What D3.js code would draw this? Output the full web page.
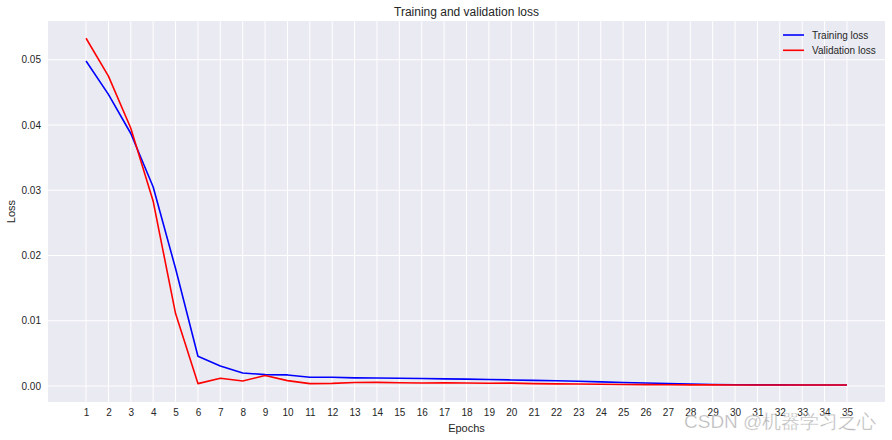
<!DOCTYPE html>
<html><head><meta charset="utf-8">
<script src="https://cdn.jsdelivr.net/npm/d3@7"></script>
<style>
body{margin:0;background:#fff;}
text{font-family:"Liberation Sans",Arial,sans-serif;}
</style></head>
<body><svg id="chart" width="892" height="440"></svg>
<script>
const epochs = d3.range(1, 36);
const trainingLoss = [0.0498,0.0447,0.0387,0.0305,0.0180,0.00456,0.00307,0.0020,0.00175,0.00170,
  0.00135,0.00135,0.00125,0.00122,0.00118,0.00114,0.00110,0.00106,0.00100,0.00093,
  0.00087,0.00080,0.00072,0.00064,0.00055,0.00046,0.00038,0.00030,0.00024,0.00020,
  0.00018,0.00017,0.00016,0.00016,0.00015];
const validationLoss = [0.0533,0.0475,0.0395,0.0283,0.0111,0.00037,0.00118,0.00077,0.0016,0.00083,
  0.00037,0.00040,0.00055,0.00056,0.00050,0.00046,0.00048,0.00047,0.00042,0.00045,
  0.00036,0.00033,0.00030,0.00027,0.00024,0.00022,0.00020,0.00018,0.00017,0.00016,
  0.00016,0.00015,0.00015,0.00015,0.00015];
const yTicks = [0.00,0.01,0.02,0.03,0.04,0.05];
const seriesNames = ["Training loss","Validation loss"];
const seriesColors = ["#0000ff","#ff0000"];

const svg = d3.select("#chart");
const L = 48, R = 885, T = 21, B = 402;
const x = d3.scaleLinear().domain([-0.7, 36.7]).range([L, R]);
const y = d3.scaleLinear().domain([-0.00245, 0.05594]).range([B, T]);

svg.append("rect").attr("x", L).attr("y", T).attr("width", R - L).attr("height", B - T).attr("fill", "#eaeaf2");

// grid
svg.append("g").selectAll("line").data(epochs).join("line")
  .attr("x1", d => x(d)).attr("x2", d => x(d)).attr("y1", T).attr("y2", B)
  .attr("stroke", "#fff").attr("stroke-width", 1);
svg.append("g").selectAll("line").data(yTicks).join("line")
  .attr("y1", d => y(d)).attr("y2", d => y(d)).attr("x1", L).attr("x2", R)
  .attr("stroke", "#fff").attr("stroke-width", 1);

// axes
const xAxis = svg.append("g").attr("transform", `translate(0,${B})`)
  .call(d3.axisBottom(x).tickValues(epochs).tickFormat(d3.format("d")).tickSize(0).tickPadding(7));
const yAxis = svg.append("g").attr("transform", `translate(${L},0)`)
  .call(d3.axisLeft(y).tickValues(yTicks).tickFormat(d3.format(".2f")).tickSize(0).tickPadding(7));
[xAxis, yAxis].forEach(g => {
  g.select(".domain").remove();
  g.selectAll("text").attr("font-size", "10px").attr("fill", "#262626")
    .attr("font-family", "'Liberation Sans',Arial,sans-serif");
});

// lines
const line = d3.line().x((d, i) => x(epochs[i])).y(d => y(d));
[trainingLoss, validationLoss].forEach((s, k) => {
  svg.append("path").datum(s).attr("d", line).attr("fill", "none")
    .attr("stroke", seriesColors[k]).attr("stroke-width", 1.6).attr("stroke-linejoin", "round");
});

// title & labels
svg.append("text").attr("x", (L + R) / 2).attr("y", 16).attr("text-anchor", "middle")
  .attr("font-size", "12px").attr("fill", "#262626").text("Training and validation loss");
svg.append("text").attr("x", (L + R) / 2).attr("y", 432).attr("text-anchor", "middle")
  .attr("font-size", "11px").attr("fill", "#262626").text("Epochs");
svg.append("text").attr("transform", `translate(15,${(T + B) / 2}) rotate(-90)`).attr("text-anchor", "middle")
  .attr("font-size", "11px").attr("fill", "#262626").text("Loss");

// legend
const lg = svg.append("g");
seriesNames.forEach((n, i) => {
  const yy = 35 + i * 15.3;
  lg.append("line").attr("x1", 783).attr("x2", 804).attr("y1", yy).attr("y2", yy)
    .attr("stroke", seriesColors[i]).attr("stroke-width", 1.6);
  lg.append("text").attr("x", 812).attr("y", yy + 3.5).attr("font-size", "10px").attr("fill", "#262626").text(n);
});

// watermark
svg.append("text").attr("x", 684).attr("y", 428).attr("font-size", "19px")
  .attr("font-family", "'Noto Sans CJK SC','Liberation Sans',sans-serif")
  .attr("fill", "rgba(140,140,140,0.6)").attr("stroke", "rgba(255,255,255,0.6)").attr("stroke-width", 0.5)
  .text("CSDN @机器学习之心");
</script></body></html>
